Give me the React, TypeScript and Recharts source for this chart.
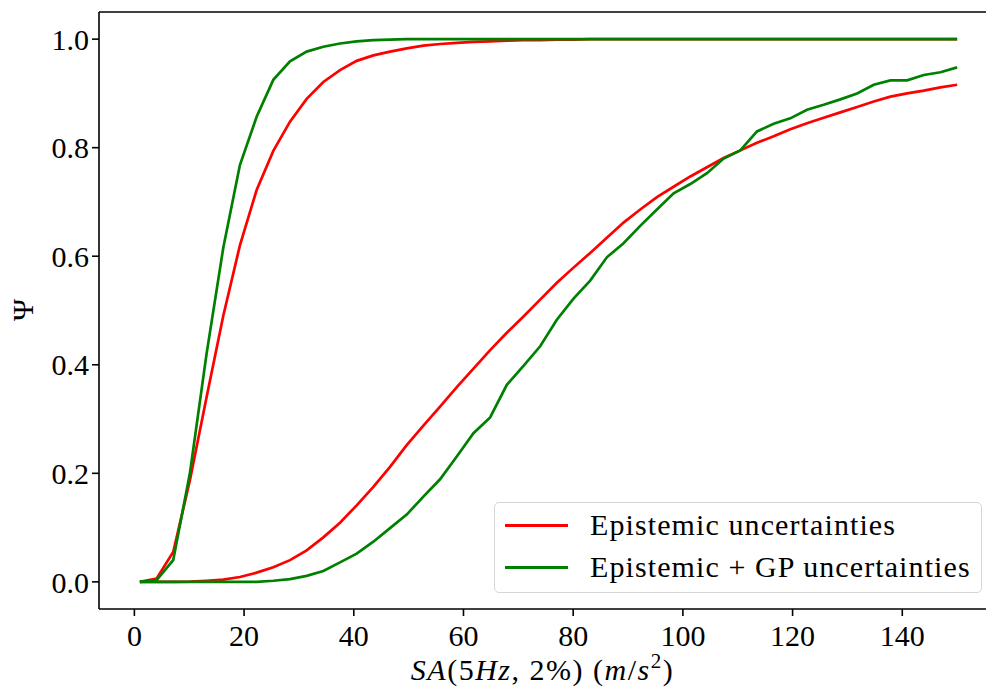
import { LineChart, Line, XAxis, YAxis, ReferenceLine } from "recharts";

// SA sample points (linspace 1..150, 50 pts)
const saValues = [
  1, 4.04, 7.08, 10.12, 13.16, 16.2, 19.24, 22.29, 25.33, 28.37, 31.41, 34.45,
  37.49, 40.53, 43.57, 46.61, 49.65, 52.69, 55.73, 58.78, 61.82, 64.86, 67.9,
  70.94, 73.98, 77.02, 80.06, 83.1, 86.14, 89.18, 92.22, 95.27, 98.31, 101.35,
  104.39, 107.43, 110.47, 113.51, 116.55, 119.59, 122.63, 125.67, 128.71,
  131.76, 134.8, 137.84, 140.88, 143.92, 146.96, 150,
];

// steep pair (lower damage state)
const epiLow = [
  0.0, 0.006, 0.055, 0.187, 0.34, 0.49, 0.62, 0.722, 0.794, 0.848, 0.89, 0.921,
  0.943, 0.96, 0.97, 0.977, 0.983, 0.988, 0.991, 0.993, 0.995, 0.996, 0.997,
  0.998, 0.998, 0.999, 0.999, 1, 1, 1, 1, 1, 1, 1, 1, 1, 1, 1, 1, 1, 1, 1, 1,
  1, 1, 1, 1, 1, 1, 1,
];
const gpLow = [
  0.0, 0.003, 0.04, 0.2, 0.42, 0.615, 0.768, 0.857, 0.925, 0.959, 0.977, 0.986,
  0.992, 0.996, 0.998, 0.999, 1, 1, 1, 1, 1, 1, 1, 1, 1, 1, 1, 1, 1, 1, 1, 1,
  1, 1, 1, 1, 1, 1, 1, 1, 1, 1, 1, 1, 1, 1, 1, 1, 1, 1,
];

// gradual pair (higher damage state)
const epiHigh = [
  0, 0, 0, 0.0005, 0.002, 0.004, 0.009, 0.017, 0.027, 0.04, 0.058, 0.082,
  0.109, 0.141, 0.175, 0.212, 0.252, 0.288, 0.323, 0.359, 0.393, 0.427, 0.459,
  0.489, 0.52, 0.551, 0.579, 0.606, 0.634, 0.662, 0.686, 0.709, 0.728, 0.747,
  0.764, 0.781, 0.795, 0.809, 0.821, 0.834, 0.845, 0.855, 0.865, 0.875, 0.885,
  0.894, 0.9, 0.905, 0.911, 0.916,
];
const gpHigh = [
  0, 0, 0, 0, 0, 0, 0, 0, 0.002, 0.005, 0.011, 0.02, 0.036, 0.052, 0.074,
  0.099, 0.124, 0.157, 0.189, 0.231, 0.274, 0.303, 0.363, 0.398, 0.434, 0.483,
  0.522, 0.555, 0.598, 0.624, 0.656, 0.686, 0.716, 0.733, 0.753, 0.78, 0.795,
  0.83, 0.844, 0.854, 0.87, 0.879, 0.889, 0.9, 0.916, 0.924, 0.924, 0.934,
  0.939, 0.948,
];

const xTicks = [0, 20, 40, 60, 80, 100, 120, 140];
const yTicks = [0, 0.2, 0.4, 0.6, 0.8, 1.0];
const legendNames = ["Epistemic uncertainties", "Epistemic + GP uncertainties"];
const legendColors = ["#ff0000", "#008000"];

const rows = saValues.map((x, i) => ({
  x,
  epiLow: epiLow[i],
  gpLow: gpLow[i],
  epiHigh: epiHigh[i],
  gpHigh: gpHigh[i],
}));

const FONT = "'Liberation Serif', 'DejaVu Serif', serif";
const tickStyle = { fill: "#000", fontSize: 30, fontFamily: FONT };

function XLabel(props: any) {
  const vb = props.viewBox || { x: 0, width: 0 };
  const cx = vb.x + vb.width / 2;
  return (
    <text
      x={cx - 6}
      y={680}
      textAnchor="middle"
      fontSize={30}
      fontFamily={FONT}
      fill="#000"
      style={{ letterSpacing: 1.5 }}
    >
      <tspan fontStyle="italic">SA</tspan>
      <tspan>(5</tspan>
      <tspan fontStyle="italic">Hz</tspan>
      <tspan>, 2%) (</tspan>
      <tspan fontStyle="italic">m</tspan>
      <tspan>/</tspan>
      <tspan fontStyle="italic">s</tspan>
      <tspan dy={-12} fontSize={21}>2</tspan>
      <tspan dy={12}>)</tspan>
    </text>
  );
}

function YLabel() {
  return (
    <text
      x={22}
      y={310}
      textAnchor="middle"
      dominantBaseline="central"
      fontSize={30}
      fontFamily={FONT}
      fill="#000"
      transform="rotate(-90 22 310)"
    >
      Ψ
    </text>
  );
}

function LegendBox() {
  return (
    <div
      style={{
        position: "absolute",
        left: 494,
        top: 502,
        width: 488,
        height: 91,
        boxSizing: "border-box",
        border: "1.5px solid #d6d6d6",
        borderRadius: 5,
        background: "rgba(255,255,255,0.8)",
        paddingTop: 1,
        fontFamily: FONT,
        fontSize: 30,
        letterSpacing: 1.1,
        color: "#000",
      }}
    >
      {legendNames.map((name, i) => (
        <div key={name} style={{ display: "flex", alignItems: "center", height: 42 }}>
          <span
            style={{
              display: "inline-block",
              width: 63,
              height: 3,
              marginLeft: 10,
              marginRight: 22,
              background: legendColors[i],
            }}
          />
          <span>{name}</span>
        </div>
      ))}
    </div>
  );
}

export default function App() {
  return (
    <div style={{ position: "absolute", left: 0, top: 0, width: 986, height: 690, overflow: "hidden", background: "#fff" }}>
      <LineChart width={1000} height={690} data={rows} margin={{ top: 12, right: 2, bottom: 0, left: 0 }}>
        <XAxis
          dataKey="x"
          type="number"
          domain={[-6.45, 157.45]}
          ticks={xTicks}
          allowDataOverflow
          tick={tickStyle}
          tickSize={7}
          tickMargin={9}
          height={81}
          stroke="#000"
          strokeWidth={1.6}
          label={<XLabel />}
        />
        <YAxis
          type="number"
          domain={[-0.05, 1.05]}
          ticks={yTicks}
          allowDataOverflow
          tickFormatter={(v: number) => v.toFixed(1)}
          tick={tickStyle}
          tickSize={7}
          tickMargin={3}
          width={99}
          stroke="#000"
          strokeWidth={1.6}
          label={<YLabel />}
        />
        <ReferenceLine y={1.05} stroke="#000" strokeWidth={1.6} />
        <Line dataKey="epiLow" stroke="#ff0000" strokeWidth={2.7} dot={false} isAnimationActive={false} />
        <Line dataKey="epiHigh" stroke="#ff0000" strokeWidth={2.7} dot={false} isAnimationActive={false} />
        <Line dataKey="gpLow" stroke="#008000" strokeWidth={2.7} dot={false} isAnimationActive={false} />
        <Line dataKey="gpHigh" stroke="#008000" strokeWidth={2.7} dot={false} isAnimationActive={false} />
      </LineChart>
      <LegendBox />
    </div>
  );
}
